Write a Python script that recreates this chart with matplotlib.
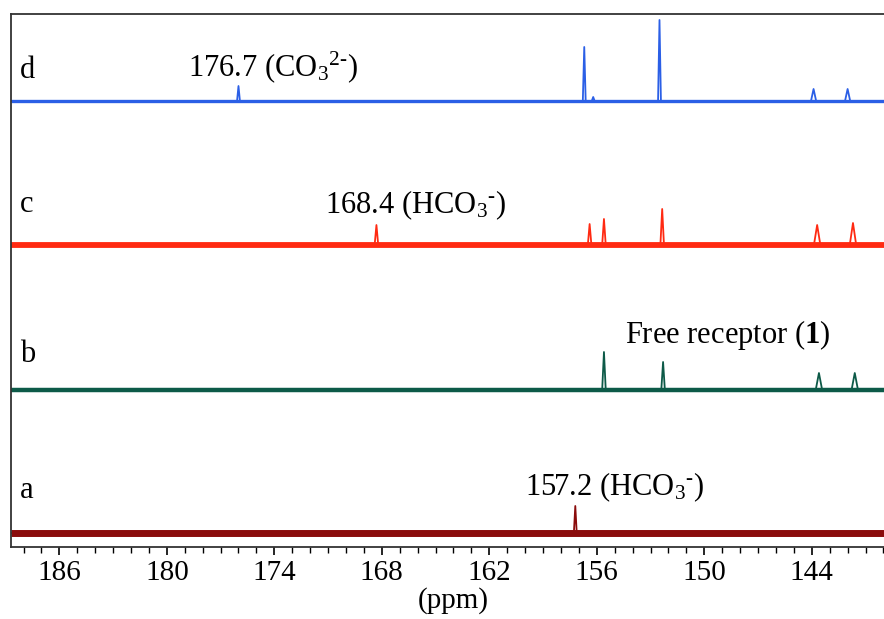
import matplotlib
matplotlib.use("Agg")
import matplotlib.pyplot as plt

plt.rcParams["font.family"] = ["Liberation Serif", "DejaVu Serif"]
plt.rcParams["mathtext.fontset"] = "custom"
plt.rcParams["mathtext.rm"] = "Liberation Serif"
plt.rcParams["mathtext.it"] = "Liberation Serif:italic"
plt.rcParams["mathtext.bf"] = "Liberation Serif:bold"

# peak positions (ppm) and heights (arbitrary) per trace
a_ppm = [157.2]
a_height = [27]
b_ppm = [155.6, 152.3, 143.6, 141.6]
b_height = [38, 28, 17, 17]
c_ppm = [168.3, 156.4, 155.6, 152.35, 143.7, 141.7]
c_height = [20, 21, 26, 36, 20, 22]
d_ppm = [176.0, 156.7, 156.2, 152.5, 143.9, 142.0]
d_height = [15, 54, 4, 81, 12, 12]

colors = ["#8a0c0c", "#0d5a48", "#ff2a12", "#2b5fe6"]
offsets = [14, 157, 302, 446]
noise_lw = [5.0, 3.2, 4.2, 2.4]
peak_w = [0.08, 0.1, 0.1, 0.08]

XMIN, XMAX = 188.7, 139.85
HY = "\u2010"  # short hyphen for the charges


def trace_line(ppm, height, w):
    xs = [XMIN]
    ys = [0]
    for p, h in sorted(zip(ppm, height), reverse=True):
        ww = w * 1.8 if p < 145 else w
        xs += [p + ww, p, p - ww]
        ys += [0, h, 0]
    xs.append(XMAX)
    ys.append(0)
    return xs, ys


fig = plt.figure(figsize=(8.84, 6.19), dpi=100)
ax = fig.add_axes([0.0124, 0.1163, 0.99, 0.8611])

data = [(a_ppm, a_height), (b_ppm, b_height), (c_ppm, c_height), (d_ppm, d_height)]
for (ppm, h), col, off, lw, w in zip(data, colors, offsets, noise_lw, peak_w):
    ax.plot([XMIN, XMAX], [off, off], color=col, lw=lw, solid_capstyle="butt")
    xs, ys = trace_line(ppm, h, w)
    ax.plot(xs, [y + off for y in ys], color=col, lw=1.3)

ax.set_xlim(XMIN, XMAX)
ax.set_ylim(0, 533)
ax.set_yticks([])
ax.set_xticks([186, 180, 174, 168, 162, 156, 150, 144])
ax.set_xticks(range(140, 189), minor=True)
ax.tick_params(axis="x", which="major", length=6, width=1.2, labelsize=21, pad=3)
ax.tick_params(axis="x", which="minor", length=4, width=1.0)
ax.spines["right"].set_visible(False)
for s in ["left", "top", "bottom"]:
    ax.spines[s].set_linewidth(1.3)
    ax.spines[s].set_color("#333333")
ax.set_xlabel("(ppm)", fontsize=21, labelpad=2)
ax.xaxis.set_label_coords(0.505, -0.075)

# trace letters
for name, ypix in zip(["d", "c", "b", "a"], [70, 205, 355, 490]):
    ax.text(20, 619 - ypix, name, transform=None, fontsize=22,
            ha="left", va="center")

ax.text(188, 619 - 67, "176.7 (CO$_3$$^{2" + HY + "}$)", transform=None,
        fontsize=22, ha="left", va="center")
ax.text(325, 619 - 205, "168.4 (HCO$_3$$^{" + HY + "}$)", transform=None,
        fontsize=22, ha="left", va="center")
ax.text(625, 619 - 335, r"Free receptor ($\mathbf{1}$)", transform=None,
        fontsize=22, ha="left", va="center")
ax.text(525, 619 - 487, "157.2 (HCO$_3$$^{" + HY + "}$)", transform=None,
        fontsize=22, ha="left", va="center")

fig.savefig("out.png", dpi=100)
